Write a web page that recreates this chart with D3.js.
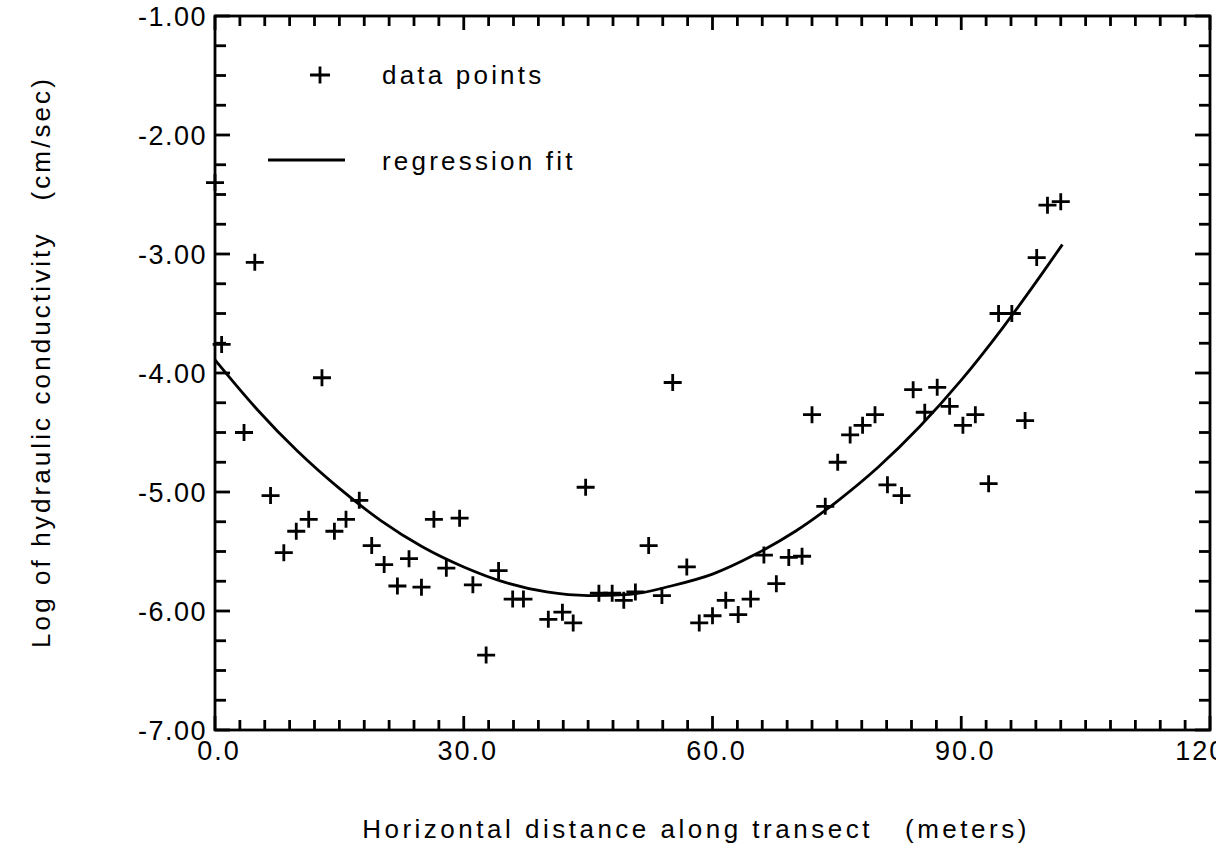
<!DOCTYPE html>
<html>
<head>
<meta charset="utf-8">
<script src="https://cdn.jsdelivr.net/npm/d3@7"></script>
<style>
  html, body { margin: 0; padding: 0; background: #fff; }
  svg { display: block; overflow: hidden; }
  text { font-family: "Liberation Sans", Arial, sans-serif; fill: #000; }
</style>
</head>
<body>
<svg id="chart" width="1216" height="862"></svg>
<script>
// data points
const pointX = [0.0, 0.8, 3.5, 4.8, 6.7, 8.3, 9.8, 11.3, 12.9, 14.4, 15.8, 17.4, 18.9, 20.4,
  22.0, 23.4, 24.9, 26.4, 27.9, 29.5, 31.1, 32.7, 34.2, 35.9, 37.2, 40.2, 41.9, 43.2, 44.7,
  46.3, 47.9, 49.3, 50.7, 52.3, 53.9, 55.2, 56.9, 58.4, 60.0, 61.6, 63.1, 64.6, 66.2, 67.7,
  69.2, 70.8, 72.0, 73.6, 75.1, 76.6, 78.1, 79.6, 81.1, 82.8, 84.2, 85.6, 87.1, 88.6, 90.2,
  91.7, 93.3, 94.5, 96.1, 97.7, 99.1, 100.4, 102.0];
const pointY = [-2.40, -3.76, -4.50, -3.07, -5.03, -5.51, -5.33, -5.23, -4.04, -5.33, -5.23,
  -5.07, -5.45, -5.61, -5.79, -5.56, -5.80, -5.23, -5.64, -5.22, -5.78, -6.37, -5.66, -5.90,
  -5.90, -6.07, -6.01, -6.10, -4.96, -5.85, -5.85, -5.91, -5.84, -5.45, -5.87, -4.08, -5.63,
  -6.10, -6.04, -5.91, -6.03, -5.90, -5.53, -5.77, -5.55, -5.54, -4.35, -5.12, -4.75, -4.52,
  -4.44, -4.35, -4.94, -5.03, -4.14, -4.33, -4.12, -4.28, -4.44, -4.35, -4.93, -3.50, -3.50,
  -4.40, -3.03, -2.59, -2.56];

// regression curve, read at intervals along the drawn line
const fitX = [0, 5, 10, 15, 20, 25, 30, 35, 40, 45, 50, 55, 60, 65, 70, 75, 80, 85, 90, 95, 100, 102.2];
const fitY = [-3.89, -4.30, -4.66, -4.97, -5.24, -5.46, -5.63, -5.76, -5.84, -5.87, -5.86, -5.79,
  -5.69, -5.53, -5.33, -5.08, -4.79, -4.45, -4.06, -3.62, -3.14, -2.92];

const xLabelTicks = [0, 30, 60, 90, 120];
const yLabelTicks = [-1, -2, -3, -4, -5, -6, -7];
const xTitle = 'Horizontal distance along transect   (meters)';
const yTitle = 'Log of hydraulic conductivity   (cm/sec)';
const legendItems = ['data points', 'regression fit'];

const plotLeft = 215, plotRight = 1210, plotTop = 16, plotBottom = 730;
const axisWidth = 2.8;

let svg = d3.select('#chart');

let x = d3.scaleLinear().domain([0, 120]).range([plotLeft, plotRight]);
let y = d3.scaleLinear().domain([-7, -1]).range([plotBottom, plotTop]);

let minorX = d3.range(0, 121, 3);
let minorY = d3.range(-7, -0.99, 0.25);

let isMajorX = v => Math.abs(v % 30) < 1e-6;
let isMajorY = v => Math.abs(v - Math.round(v)) < 1e-6;

// plain hyphen instead of the unicode minus d3 uses
let fmt = spec => v => d3.format(spec)(v).replace('\u2212', '-');

let frame = svg.append('g')
  .attr('stroke', '#000')
  .attr('stroke-width', axisWidth)
  .attr('fill', 'none');

frame.append('rect')
  .attr('x', plotLeft)
  .attr('y', plotTop)
  .attr('width', plotRight - plotLeft)
  .attr('height', plotBottom - plotTop);

// inward ticks on all four sides
frame.selectAll('.tick-b')
  .data(minorX)
  .enter()
  .append('line')
    .attr('class', 'tick-b')
    .attr('x1', d => x(d)).attr('x2', d => x(d))
    .attr('y1', plotBottom).attr('y2', d => plotBottom - (isMajorX(d) ? 14 : 10));

frame.selectAll('.tick-t')
  .data(minorX)
  .enter()
  .append('line')
    .attr('class', 'tick-t')
    .attr('x1', d => x(d)).attr('x2', d => x(d))
    .attr('y1', plotTop).attr('y2', d => plotTop + (isMajorX(d) ? 14 : 10));

frame.selectAll('.tick-l')
  .data(minorY)
  .enter()
  .append('line')
    .attr('class', 'tick-l')
    .attr('y1', d => y(d)).attr('y2', d => y(d))
    .attr('x1', plotLeft).attr('x2', d => plotLeft + (isMajorY(d) ? 15 : 11));

frame.selectAll('.tick-r')
  .data(minorY)
  .enter()
  .append('line')
    .attr('class', 'tick-r')
    .attr('y1', d => y(d)).attr('y2', d => y(d))
    .attr('x1', plotRight).attr('x2', d => plotRight - (isMajorY(d) ? 15 : 11));

// tick labels (the 120.0 label runs off the page, as in the original)
svg.append('g')
  .selectAll('text')
  .data(xLabelTicks)
  .enter()
  .append('text')
    .attr('x', d => x(d) + 4)
    .attr('y', plotBottom + 30)
    .attr('text-anchor', 'middle')
    .style('font-size', '27px')
    .style('letter-spacing', '2px')
    .text(fmt('.1f'));

svg.append('g')
  .selectAll('text')
  .data(yLabelTicks)
  .enter()
  .append('text')
    .attr('x', plotLeft - 8)
    .attr('y', d => y(d) + 10)
    .attr('text-anchor', 'end')
    .style('font-size', '27px')
    .style('letter-spacing', '1.5px')
    .text(fmt('.2f'));

// regression line
let line = d3.line()
  .x(d => x(d[0]))
  .y(d => y(d[1]))
  .curve(d3.curveMonotoneX);

svg.append('path')
  .datum(fitX.map((v, i) => [v, fitY[i]]))
  .attr('d', line)
  .attr('fill', 'none')
  .attr('stroke', '#000')
  .attr('stroke-width', 2.8);

// data point crosses
let plusPath = (w, h) => 'M' + (-w) + ',0H' + w + 'M0,' + (-h) + 'V' + h;

svg.append('g')
  .selectAll('path')
  .data(pointX.map((v, i) => [v, pointY[i]]))
  .enter()
  .append('path')
    .attr('transform', d => 'translate(' + x(d[0]) + ',' + y(d[1]) + ')')
    .attr('d', plusPath(9, 8.5))
    .attr('stroke', '#000')
    .attr('stroke-width', 2.8)
    .attr('fill', 'none');

// legend
let legend = svg.append('g');

legend.append('path')
  .attr('transform', 'translate(320,75)')
  .attr('d', plusPath(10, 8.5))
  .attr('stroke', '#000')
  .attr('stroke-width', 2.8);

legend.append('line')
  .attr('x1', 268).attr('x2', 345)
  .attr('y1', 160).attr('y2', 160)
  .attr('stroke', '#000')
  .attr('stroke-width', 3);

legend.selectAll('text')
  .data(legendItems)
  .enter()
  .append('text')
    .attr('x', 382)
    .attr('y', (d, i) => 84 + i * 86)
    .style('font-size', '26px')
    .style('letter-spacing', '3.2px')
    .text(d => d);

// axis titles
svg.append('text')
  .attr('x', 696)
  .attr('y', 838)
  .attr('text-anchor', 'middle')
  .style('font-size', '26px')
  .style('letter-spacing', '3.5px')
  .style('white-space', 'pre')
  .text(xTitle);

svg.append('text')
  .attr('transform', 'translate(50,362) rotate(-90)')
  .attr('text-anchor', 'middle')
  .style('font-size', '26px')
  .style('letter-spacing', '3.1px')
  .style('white-space', 'pre')
  .text(yTitle);
</script>
</body>
</html>
